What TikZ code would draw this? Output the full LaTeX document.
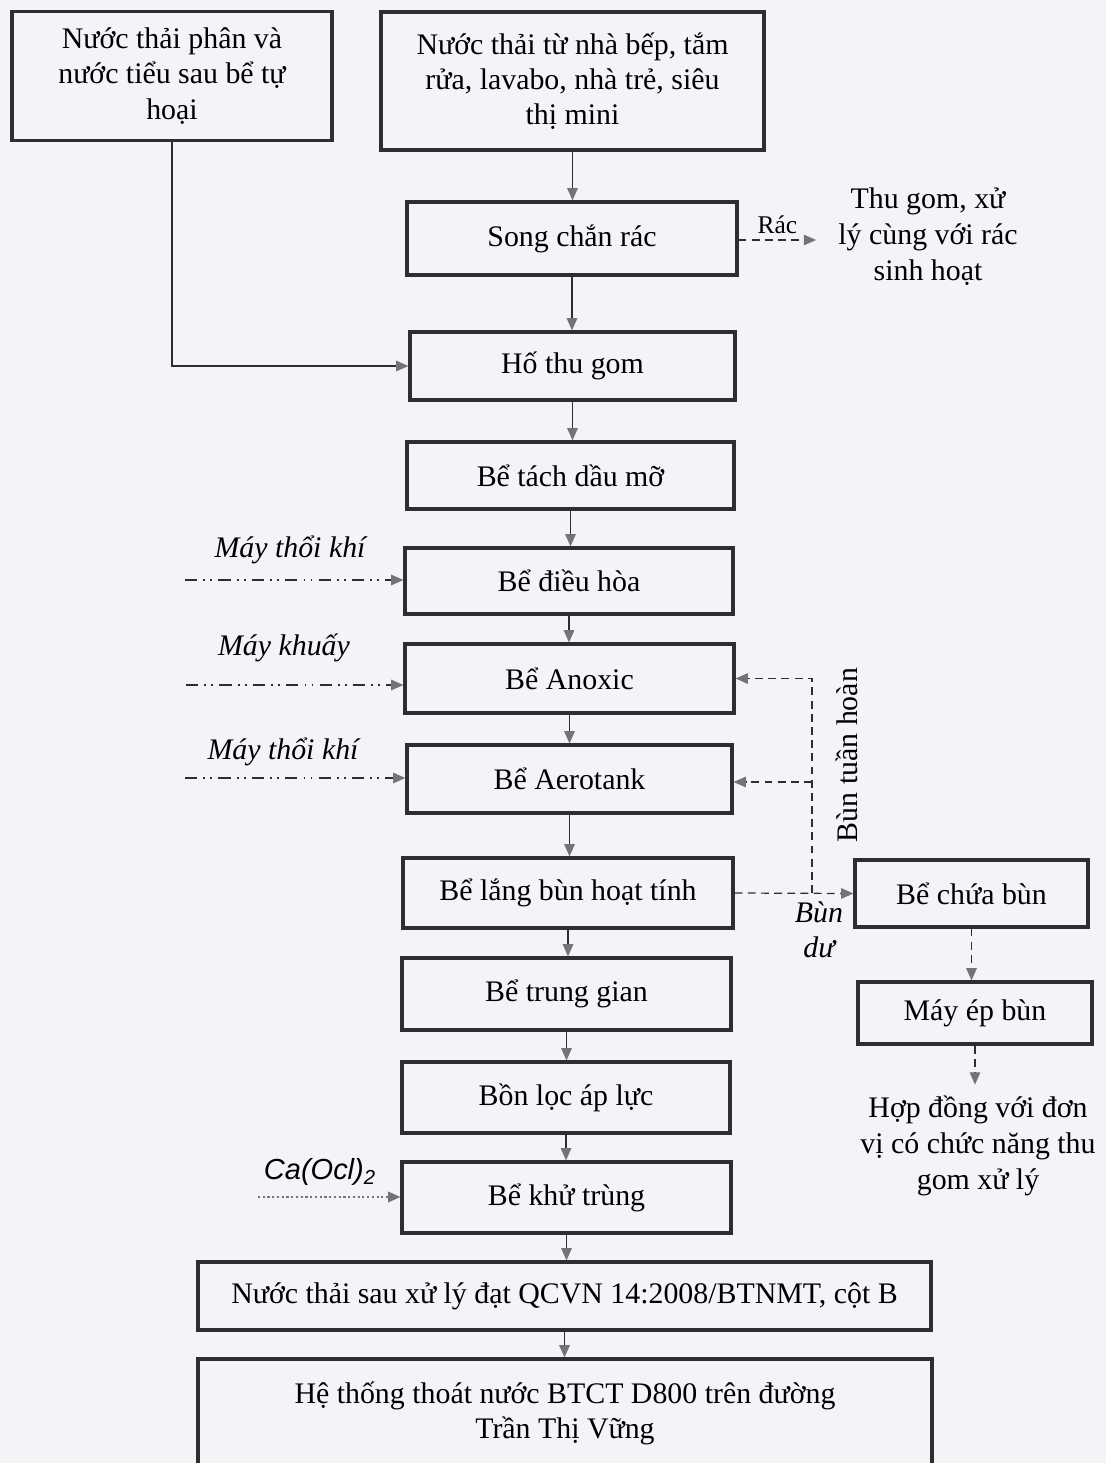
\documentclass[tikz,border=0pt]{standalone}
\usepackage{fontspec}
\setmainfont{Liberation Serif}
\newfontfamily\arialfont{Liberation Sans}
\usetikzlibrary{arrows.meta}

\definecolor{nennhat}{RGB}{244,243,248}
\definecolor{vien}{RGB}{45,45,50}
\definecolor{muixam}{RGB}{115,115,120}

\tikzset{
  kt/.style 2 args={minimum width=#1*0.02cm, minimum height=#2*0.02cm},
  hop/.style={draw=vien, line width=1.8pt, inner sep=0pt, align=center, font=\fontsize{17}{20}\selectfont},
  chu/.style={align=center, inner sep=2pt, font=\fontsize{17}{20.5}\selectfont},
  nhan/.style={chu, font=\fontsize{17}{20}\selectfont\itshape},
  muiten/.style={draw=vien, line width=0.7pt, -{Triangle[length=7pt,width=6pt,fill=muixam,color=muixam]}},
  netdut/.style={muiten, dash pattern=on 4.5pt off 3pt},
  gachcham/.style={muiten, dash pattern=on 7pt off 3.5pt on 1pt off 3pt on 1pt off 3.5pt},
  chamday/.style={muiten, draw=muixam, line width=1pt, dash pattern=on 1.2pt off 1.5pt}
}

\begin{document}
\begin{tikzpicture}[x=0.02cm, y=-0.02cm]
	\fill[nennhat] (0,0) rectangle (1106,1463);
	\useasboundingbox (0,0) rectangle (1106,1463);

	\node[hop, kt={320}{129}] (nt1) at (172,76) {Nước thải phân và\\nước tiểu sau bể tự\\hoại};
	\node[hop, kt={383}{138}] (nt2) at (572.5,81) {Nước thải từ nhà bếp, tắm\\rửa, lavabo, nhà trẻ, siêu\\thị mini};
	\node[hop, kt={330}{73}] (scr) at (572,238.5) {Song chắn rác};
	\node[chu, inner sep=0.44cm] (thugom) at (928,237) {Thu gom, xử\\lý cùng với rác\\sinh hoạt};
	\node[hop, kt={325}{68}] (htg) at (572.5,366) {Hố thu gom};
	\node[hop, kt={327}{67}] (btdm) at (570.5,475.5) {Bể tách dầu mỡ};
	\node[hop, kt={328}{66}] (bdh) at (569,581) {Bể điều hòa};
	\node[hop, kt={329}{69}] (banox) at (569.5,678.5) {Bể Anoxic};
	\node[hop, kt={325}{68}] (baero) at (569.5,779) {Bể Aerotank};
	\node[hop, kt={330}{70}] (blang) at (568,893) {Bể lắng bùn hoạt tính};
	\node[hop, kt={329}{72}] (btg) at (566.5,994) {Bể trung gian};
	\node[hop, kt={328}{71}] (bloc) at (566,1097.5) {Bồn lọc áp lực};
	\node[hop, kt={329}{71}] (bkt) at (566.5,1197.5) {Bể khử trùng};
	\node[hop, kt={733}{68}] (ntsau) at (564.5,1296) {Nước thải sau xử lý đạt QCVN 14:2008/BTNMT, cột B};
	\node[hop, kt={734}{108}] (htt) at (565,1413) {Hệ thống thoát nước BTCT D800 trên đường\\Trần Thị Vững};
	\node[hop, kt={233}{67}] (bcb) at (971.5,893.5) {Bể chứa bùn};
	\node[hop, kt={234}{62}] (mep) at (975,1013) {Máy ép bùn};
	\node[chu, inner sep=0.22cm] (hopdong) at (978,1146) {Hợp đồng với đơn\\vị có chức năng thu\\gom xử lý};

	\foreach \tren/\duoi in {nt2/scr, scr/htg, htg/btdm, btdm/bdh, bdh/banox, banox/baero, baero/blang, blang/btg, btg/bloc, bloc/bkt, bkt/ntsau, ntsau/htt}
		\draw[muiten] (\tren.south) -- (\tren.south |- \duoi.north);
	\draw[muiten] (nt1.south) |- (htg.west);
	\draw[netdut, line width=0.6pt] (scr.east |- 0,240) -- (thugom.west |- 0,240) node[midway, above=1pt, chu, font=\fontsize{14.5}{16}\selectfont] (rac) {Rác};

	\coordinate (vao1) at (185,580);
	\coordinate (vao2) at (186,685);
	\coordinate (vao3) at (185,778);
	\coordinate (vao4) at (258,1197);
	\draw[gachcham] (vao1) -- (vao1 -| bdh.west);
	\draw[gachcham] (vao2) -- (vao2 -| banox.west);
	\draw[gachcham] (vao3) -- (vao3 -| baero.west);
	\draw[chamday] (vao4) -- (vao4 -| bkt.west);
	\node[nhan] (mtk1) at (290,550) {Máy thổi khí};
	\node[nhan] (mk) at (284,648) {Máy khuấy};
	\node[nhan] (mtk2) at (283,752) {Máy thổi khí};
	\node[chu, font=\fontsize{16.5}{20}\selectfont\arialfont\itshape] (caocl) at (320,1172) {Ca(Ocl)\textsubscript{2}};

	\coordinate (nga) at (812,893);
	\draw[netdut] (blang.east) -- (bcb.west);
	\draw[netdut] (nga) |- (banox.east);
	\draw[netdut] (nga |- 0,782) -- (baero.east |- 0,782);
	\node[chu, rotate=90] (buntt) at (847,755) {Bùn tuần hoàn};
	\node[nhan] (bundu) at (819,930) {Bùn\\dư};
	\draw[netdut] (bcb.south) -- (bcb.south |- mep.north);
	\draw[netdut] (mep.south) -- (mep.south |- hopdong.north);
\end{tikzpicture}
\end{document}
